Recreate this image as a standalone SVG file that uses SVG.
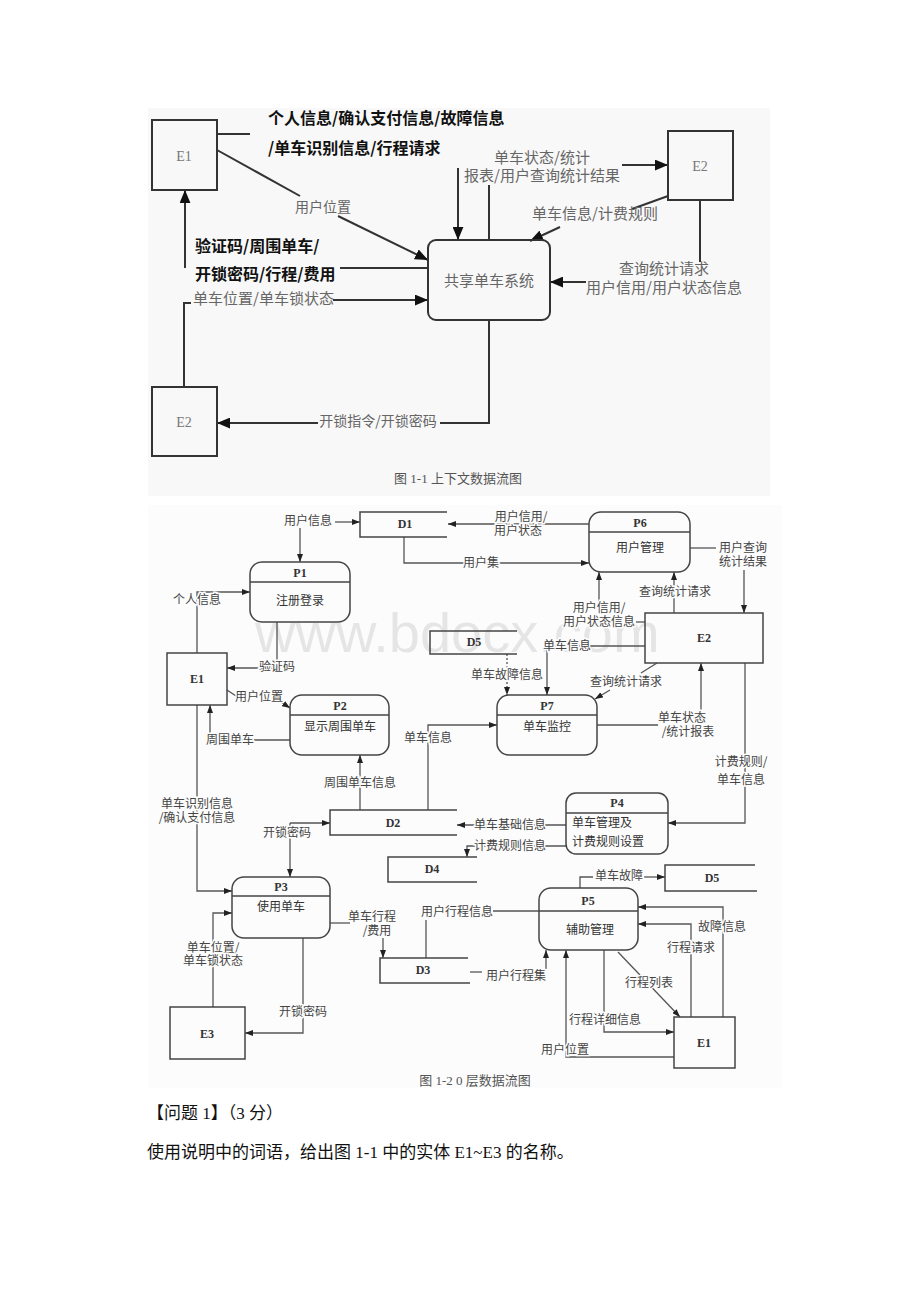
<svg xmlns="http://www.w3.org/2000/svg" width="920" height="1302" viewBox="0 0 920 1302">
<style>
.bg{fill:#ffffff}
.n1{fill:none;stroke:#333;stroke-width:2}
.c1{fill:none;stroke:#333;stroke-width:2}
.t1b{font-family:"Noto Sans CJK SC","Noto Sans",sans-serif;font-size:16px;font-weight:bold;fill:#111}
.t1g{font-family:"Noto Sans CJK SC","Noto Sans",sans-serif;font-size:15px;fill:#666}
.e1{font-family:"Liberation Serif",serif;font-size:14px;fill:#777;text-anchor:middle}
.cap{font-family:"Liberation Serif","Noto Sans CJK SC",serif;font-size:13px;fill:#555;text-anchor:middle}
.n2{fill:none;stroke:#444;stroke-width:1.5}
.c2{fill:none;stroke:#555;stroke-width:1.3}
.l2{font-family:"Noto Sans CJK SC",sans-serif;font-size:12px;fill:#444;text-anchor:middle;stroke:#fcfcfc;stroke-width:3;paint-order:stroke}
.pn{font-family:"Noto Sans CJK SC",sans-serif;font-size:12px;fill:#333;text-anchor:middle}
.pnl{font-family:"Noto Sans CJK SC",sans-serif;font-size:12px;fill:#333;text-anchor:start}
.pid{font-family:"Liberation Serif",serif;font-size:12px;font-weight:bold;fill:#333;text-anchor:middle}
.q{font-family:"Liberation Serif","Noto Sans CJK SC",serif;font-size:17px;fill:#111}
</style>
<defs>
<marker id="a1" viewBox="0 0 12 10" refX="12" refY="5" markerWidth="13" markerHeight="11" markerUnits="userSpaceOnUse" orient="auto"><path d="M0,0 L12,5 L0,10 z" fill="#111"/></marker>
<marker id="a2" viewBox="0 0 8 6" refX="8" refY="3" markerWidth="8" markerHeight="6" markerUnits="userSpaceOnUse" orient="auto"><path d="M0,0 L8,3 L0,6 z" fill="#222"/></marker>
</defs>
<rect class="bg" x="0" y="0" width="920" height="1302"/>

<!-- Figure 1-1 -->
<rect x="148" y="108" width="622" height="388" fill="#f8f8f8"/>
<g id="fig1-connectors">
<path class="c1" d="M217,134 H250"/>
<path class="c1" d="M458,168 V240" marker-end="url(#a1)"/>
<path class="c1" d="M489,240 V185"/>
<path class="c1" d="M622,165 H668" marker-end="url(#a1)"/>
<path class="c1" d="M668,196 L632,209"/>
<path class="c1" d="M560,227 L530,241" marker-end="url(#a1)"/>
<path class="c1" d="M700,200 V262"/>
<path class="c1" d="M586,282 H550" marker-end="url(#a1)"/>
<path class="c1" d="M217,150 L300,196"/>
<path class="c1" d="M338,216 L428,260" marker-end="url(#a1)"/>
<path class="c1" d="M185,268 V190" marker-end="url(#a1)"/>
<path class="c1" d="M340,268 H428"/>
<path class="c1" d="M184,387 V303 H191"/>
<path class="c1" d="M333,300 H428" marker-end="url(#a1)"/>
<path class="c1" d="M489,320 V423 H440"/>
<path class="c1" d="M318,423 H217" marker-end="url(#a1)"/>
<text class="t1b" x="268" y="124">个人信息/确认支付信息/故障信息</text>
<text class="t1b" x="268" y="154">/单车识别信息/行程请求</text>
<text class="t1g" x="542" y="163" text-anchor="middle">单车状态/统计</text>
<text class="t1g" x="464" y="181">报表/用户查询统计结果</text>
<text class="t1g" x="295" y="212" style="font-size:14px">用户位置</text>
<text class="t1g" x="532" y="219">单车信息/计费规则</text>
<text class="t1g" x="664" y="274" text-anchor="middle">查询统计请求</text>
<text class="t1g" x="664" y="293" text-anchor="middle">用户信用/用户状态信息</text>
<text class="t1b" x="195" y="252">验证码/周围单车/</text>
<text class="t1b" x="195" y="280">开锁密码/行程/费用</text>
<text class="t1g" x="193" y="304">单车位置/单车锁状态</text>
<text class="t1g" x="378" y="426" text-anchor="middle" style="font-size:14px">开锁指令/开锁密码</text>
</g>
<g id="ctx-E1"><rect class="n1" x="152" y="120" width="65" height="70"/><text class="e1" x="184" y="161">E1</text></g>
<g id="ctx-E2-top"><rect class="n1" x="668" y="131" width="65" height="69"/><text class="e1" x="700" y="171">E2</text></g>
<g id="ctx-E2-bottom"><rect class="n1" x="152" y="387" width="65" height="69"/><text class="e1" x="184" y="427">E2</text></g>
<g id="ctx-system"><rect class="n1" x="428" y="240" width="122" height="80" rx="8"/><text class="t1g" x="489" y="286" text-anchor="middle">共享单车系统</text></g>
<text class="cap" x="458" y="483">图 1-1 上下文数据流图</text>

<!-- Figure 1-2 -->
<rect x="148" y="505" width="634" height="583" fill="#fcfcfc"/>
<text x="255" y="652" font-family="Liberation Sans,sans-serif" font-size="56" fill="#000" fill-opacity="0.09">www.bdocx.com</text>
<g id="dfd-connectors">
<path class="c2" d="M335,522 H360" marker-end="url(#a2)"/>
<path class="c2" d="M300,528 V562" marker-end="url(#a2)"/>
<path class="c2" d="M404,537 V563 H589" marker-end="url(#a2)"/>
<path class="c2" d="M197,653 V592 H250" marker-end="url(#a2)"/>
<path class="c2" d="M277,622 V668 H227" marker-end="url(#a2)"/>
<path class="c2" d="M227,690 L236,696"/>
<path class="c2" d="M281,702 L290,708" marker-end="url(#a2)"/>
<path class="c2" d="M290,740 H210 V705" marker-end="url(#a2)"/>
<path class="c2" d="M197,705 V891 H232" marker-end="url(#a2)"/>
<path class="c2" d="M360,810 V755" marker-end="url(#a2)"/>
<path class="c2" d="M428,810 V725 H497" marker-end="url(#a2)"/>
<path class="c2" d="M290,823 H330" marker-end="url(#a2)"/>
<path class="c2" d="M290,823 V877" marker-end="url(#a2)"/>
<path class="c2" d="M566,825 H457" marker-end="url(#a2)"/>
<path class="c2" d="M566,846 H467 V857" marker-end="url(#a2)"/>
<path class="c2" d="M745,663 V823 H668" marker-end="url(#a2)"/>
<path class="c2" d="M597,725 H658"/>
<path class="c2" d="M701,711 V663" marker-end="url(#a2)"/>
<path class="c2" d="M690,548 H716"/>
<path class="c2" d="M744,570 V613" marker-end="url(#a2)"/>
<path class="c2" d="M674,613 V572" marker-end="url(#a2)"/>
<path class="c2" d="M599,606 V572" marker-end="url(#a2)"/>
<path class="c2" d="M645,622 H636"/>
<path class="c2" d="M589,524 H448" marker-end="url(#a2)"/>
<path class="c2" d="M507,654 V695" stroke-dasharray="2,2" marker-end="url(#a2)"/>
<path class="c2" d="M645,646 H547 V695" marker-end="url(#a2)"/>
<path class="c2" d="M657,663 L641,673"/>
<path class="c2" d="M610,690 L595,699" marker-end="url(#a2)"/>
<path class="c2" d="M330,923 H350"/>
<path class="c2" d="M383,938 V958" marker-end="url(#a2)"/>
<path class="c2" d="M213,1007 V913 H232" marker-end="url(#a2)"/>
<path class="c2" d="M303,938 V1033 H245" marker-end="url(#a2)"/>
<path class="c2" d="M426,958 V920"/>
<path class="c2" d="M493,911 H539"/>
<path class="c2" d="M470,972 H482"/>
<path class="c2" d="M546,969 V950" marker-end="url(#a2)"/>
<path class="c2" d="M580,888 V877 H593"/>
<path class="c2" d="M644,877 H665" marker-end="url(#a2)"/>
<path class="c2" d="M723,1017 V907 H638" marker-end="url(#a2)"/>
<path class="c2" d="M691,1017 V924 H638" marker-end="url(#a2)"/>
<path class="c2" d="M618,952 L680,1017" marker-end="url(#a2)"/>
<path class="c2" d="M604,950 V1032 H674" marker-end="url(#a2)"/>
<path class="c2" d="M674,1057 H566 V950" marker-end="url(#a2)"/>
<text class="l2" x="308" y="525">用户信息</text>
<text class="l2" x="481" y="567">用户集</text>
<text class="l2" x="197" y="604">个人信息</text>
<text class="l2" x="277" y="671">验证码</text>
<text class="l2" x="259" y="701">用户位置</text>
<text class="l2" x="230" y="744">周围单车</text>
<text class="l2" x="197" y="808">单车识别信息</text>
<text class="l2" x="197" y="822">/确认支付信息</text>
<text class="l2" x="360" y="787">周围单车信息</text>
<text class="l2" x="428" y="742">单车信息</text>
<text class="l2" x="287" y="837">开锁密码</text>
<text class="l2" x="510" y="829">单车基础信息</text>
<text class="l2" x="510" y="850">计费规则信息</text>
<text class="l2" x="741" y="766">计费规则/</text>
<text class="l2" x="741" y="784">单车信息</text>
<text class="l2" x="682" y="722">单车状态</text>
<text class="l2" x="688" y="736">/统计报表</text>
<text class="l2" x="743" y="552">用户查询</text>
<text class="l2" x="743" y="566">统计结果</text>
<text class="l2" x="675" y="596">查询统计请求</text>
<text class="l2" x="599" y="612">用户信用/</text>
<text class="l2" x="599" y="626">用户状态信息</text>
<text class="l2" x="521" y="521">用户信用/</text>
<text class="l2" x="518" y="535">用户状态</text>
<text class="l2" x="507" y="679">单车故障信息</text>
<text class="l2" x="567" y="650">单车信息</text>
<text class="l2" x="626" y="686">查询统计请求</text>
<text class="l2" x="372" y="921">单车行程</text>
<text class="l2" x="377" y="935">/费用</text>
<text class="l2" x="213" y="952">单车位置/</text>
<text class="l2" x="213" y="965">单车锁状态</text>
<text class="l2" x="303" y="1016">开锁密码</text>
<text class="l2" x="457" y="916">用户行程信息</text>
<text class="l2" x="516" y="980">用户行程集</text>
<text class="l2" x="619" y="880">单车故障</text>
<text class="l2" x="722" y="931">故障信息</text>
<text class="l2" x="691" y="952">行程请求</text>
<text class="l2" x="649" y="987">行程列表</text>
<text class="l2" x="605" y="1024">行程详细信息</text>
<text class="l2" x="565" y="1054">用户位置</text>
</g>

<g id="D1"><path class="n2" d="M447,512 H360 V537 H447"/><text class="pid" x="405" y="528">D1</text></g>
<g id="D2"><path class="n2" d="M457,810 H330 V835 H457"/><text class="pid" x="393" y="827">D2</text></g>
<g id="D3"><path class="n2" d="M468,958 H380 V983 H470"/><text class="pid" x="423" y="974">D3</text></g>
<g id="D4"><path class="n2" d="M477,857 H388 V882 H477"/><text class="pid" x="432" y="873">D4</text></g>
<g id="D5-upper"><path class="n2" d="M517,631 H430 V654 H517"/><text class="pid" x="474" y="646">D5</text></g>
<g id="D5-lower"><path class="n2" d="M755,865 H665 V891 H757"/><text class="pid" x="712" y="882">D5</text></g>

<g id="P1"><rect class="n2" x="250" y="562" width="100" height="60" rx="12"/><path class="n2" d="M250,582 H350"/><text class="pid" x="300" y="577">P1</text><text class="pn" x="300" y="605">注册登录</text></g>
<g id="P2"><rect class="n2" x="290" y="695" width="99" height="60" rx="12"/><path class="n2" d="M290,715 H389"/><text class="pid" x="340" y="710">P2</text><text class="pn" x="340" y="731">显示周围单车</text></g>
<g id="P3"><rect class="n2" x="232" y="877" width="98" height="61" rx="12"/><path class="n2" d="M232,896 H330"/><text class="pid" x="281" y="891">P3</text><text class="pn" x="281" y="911">使用单车</text></g>
<g id="P4"><rect class="n2" x="566" y="793" width="102" height="61" rx="10"/><path class="n2" d="M566,813 H668"/><text class="pid" x="617" y="807">P4</text><text class="pnl" x="572" y="827">单车管理及</text><text class="pnl" x="572" y="846">计费规则设置</text></g>
<g id="P5"><rect class="n2" x="539" y="888" width="99" height="62" rx="12"/><path class="n2" d="M539,911 H638"/><text class="pid" x="588" y="905">P5</text><text class="pn" x="590" y="934">辅助管理</text></g>
<g id="P6"><rect class="n2" x="589" y="512" width="101" height="60" rx="12"/><path class="n2" d="M589,532 H690"/><text class="pid" x="640" y="527">P6</text><text class="pn" x="640" y="552">用户管理</text></g>
<g id="P7"><rect class="n2" x="497" y="695" width="100" height="60" rx="12"/><path class="n2" d="M497,715 H597"/><text class="pid" x="547" y="710">P7</text><text class="pn" x="547" y="731">单车监控</text></g>

<g id="E1"><rect class="n2" x="167" y="653" width="60" height="52"/><text class="pid" x="197" y="683">E1</text></g>
<g id="E2"><rect class="n2" x="645" y="613" width="118" height="50"/><text class="pid" x="704" y="642">E2</text></g>
<g id="E3"><rect class="n2" x="170" y="1007" width="75" height="52"/><text class="pid" x="207" y="1038">E3</text></g>
<g id="E1-lower"><rect class="n2" x="674" y="1017" width="61" height="51"/><text class="pid" x="704" y="1047">E1</text></g>

<text class="cap" x="475" y="1085">图 1-2 0 层数据流图</text>

<text class="q" x="147" y="1119">【问题 1】（3 分）</text>
<text class="q" x="147" y="1158">使用说明中的词语，给出图 1-1 中的实体 E1~E3 的名称。</text>
</svg>
